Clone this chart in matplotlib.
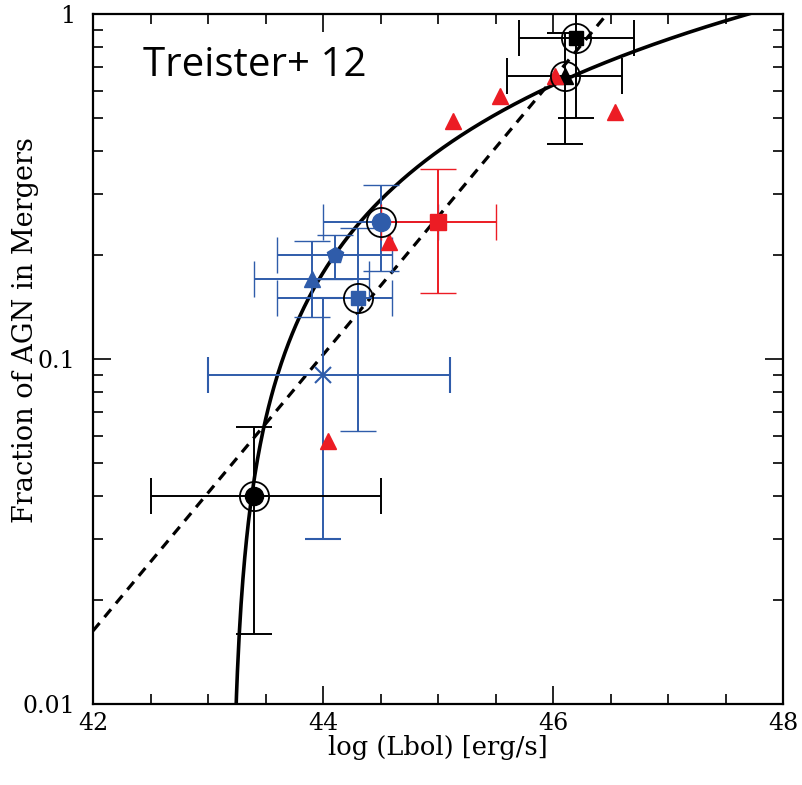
import numpy as np
import matplotlib
matplotlib.use("Agg")
import matplotlib.pyplot as plt
from matplotlib.ticker import FixedLocator, NullFormatter

# ---- data ----
# black points (with rings)
blk_circ_x, blk_circ_y = [43.4], [0.040]
blk_circ_xerr = [[0.9], [1.1]]
blk_circ_yerr = [[0.040 - 0.016], [0.0635 - 0.040]]

blk_sq_x, blk_sq_y = [46.2], [0.85]
blk_sq_xerr = [[0.5], [0.5]]
blk_sq_yerr = [[0.85 - 0.50], [1.3 - 0.85]]

blk_tri_x, blk_tri_y = [46.1], [0.66]
blk_tri_xerr = [[0.5], [0.5]]
blk_tri_yerr = [[0.66 - 0.42], [0.88 - 0.66]]

# blue points
blu_circ = dict(x=44.5, y=0.25, xlo=44.0, xhi=45.0, ylo=0.18, yhi=0.32)
blu_pent = dict(x=44.1, y=0.20, xlo=43.6, xhi=44.6, ylo=0.171, yhi=0.229)
blu_tri = dict(x=43.9, y=0.17, xlo=43.4, xhi=44.4, ylo=0.132, yhi=0.22)
blu_sq = dict(x=44.3, y=0.15, xlo=43.6, xhi=44.6, ylo=0.062, yhi=0.24)
blu_cross = dict(x=44.0, y=0.09, xlo=43.0, xhi=45.1, ylo=0.030, yhi=0.150)

# red point with errors
red_sq = dict(x=45.0, y=0.25, xlo=44.5, xhi=45.5, ylo=0.155, yhi=0.356)

# red triangles
red_tri_x = [44.04, 44.57, 45.13, 45.54, 46.02, 46.54]
red_tri_y = [0.058, 0.218, 0.49, 0.58, 0.66, 0.52]

# ringed points
ring_x = [43.4, 44.5, 44.3, 46.2, 46.1]
ring_y = [0.040, 0.25, 0.15, 0.85, 0.66]

# fits
lin_L0, lin_D = 43.2, 4.5          # f = (L - L0)/D
dash_slope, dash_L1 = 0.40, 46.47  # log f = slope*(L - L1)

xticklabels = ["42", "44", "46", "48"]
yticklabels = ["0.01", "0.1", "1"]

BLUE = "#2f5caa"
RED = "#ec1c24"

fig = plt.figure(figsize=(8.02, 7.85), dpi=100)
ax = fig.add_axes([93/802, 1 - 704/785, 690/802, 690/785])
ax.set_xlim(42, 48)
ax.set_ylim(0.01, 1)
ax.set_yscale("log")

# curves
L = np.linspace(lin_L0 + 0.04, 48, 600)
ax.plot(L, (L - lin_L0) / lin_D, color="black", lw=2.6, zorder=3)
Ld = np.linspace(42, 48, 10)
ax.plot(Ld, 10 ** (dash_slope * (Ld - dash_L1)), color="black", lw=2.3,
        ls=(0, (3.2, 2.4)), zorder=3)

eb_kw = dict(elinewidth=1.4, capsize=13, capthick=1.4, ls="none", zorder=4)

def eb(d, color, marker, ms, mew=1.0):
    ax.errorbar([d["x"]], [d["y"]],
                xerr=[[d["x"] - d["xlo"]], [d["xhi"] - d["x"]]],
                yerr=[[d["y"] - d["ylo"]], [d["yhi"] - d["y"]]],
                color=color, ecolor=color, marker=marker, ms=ms,
                mfc=color, mec=color, mew=mew, **eb_kw)

# blue
eb(blu_cross, BLUE, "x", 11, mew=1.5)
eb(blu_sq, BLUE, "s", 10)
eb(blu_tri, BLUE, "^", 11)
eb(blu_pent, BLUE, "p", 12)
eb(blu_circ, BLUE, "o", 13)
# red
eb(red_sq, RED, "s", 11)

# black
ax.errorbar(blk_circ_x, blk_circ_y, xerr=blk_circ_xerr, yerr=blk_circ_yerr,
            color="black", marker="o", ms=13, **eb_kw)
ax.errorbar(blk_sq_x, blk_sq_y, xerr=blk_sq_xerr, yerr=blk_sq_yerr,
            color="black", marker="s", ms=10, **eb_kw)

# red triangles
ax.plot(red_tri_x, red_tri_y, ls="none", marker="^", ms=12, color=RED,
        mec=RED, zorder=5)

ax.errorbar(blk_tri_x, blk_tri_y, xerr=blk_tri_xerr, yerr=blk_tri_yerr,
            color="black", marker="^", ms=11, **eb_kw)

# rings
ax.plot(ring_x, ring_y, ls="none", marker="o", ms=21, mfc="none",
        mec="black", mew=1.3, zorder=6)

# ticks
ax.xaxis.set_major_locator(FixedLocator([42, 44, 46, 48]))
ax.xaxis.set_minor_locator(FixedLocator(np.arange(42, 48.01, 0.5)))
ax.set_xticklabels(xticklabels)
ax.yaxis.set_major_locator(FixedLocator([0.01, 0.1, 1]))
ax.yaxis.set_minor_locator(FixedLocator(
    [m * 10.0 ** e for e in (-2, -1) for m in range(2, 10)]))
ax.yaxis.set_minor_formatter(NullFormatter())
ax.set_yticklabels(yticklabels)

ax.tick_params(which="both", direction="in", top=True, right=True,
               width=1.2, colors="black")
ax.tick_params(which="major", length=13, labelsize=17)
ax.tick_params(axis="y", which="major", pad=13)
ax.tick_params(axis="x", which="major", pad=6)
ax.tick_params(which="minor", length=7)
for lab in ax.get_xticklabels() + ax.get_yticklabels():
    lab.set_family("DejaVu Serif")
for s in ax.spines.values():
    s.set_linewidth(1.6)

ax.set_xlabel("log (Lbol) [erg/s]", fontsize=18.5, family="DejaVu Serif")
ax.xaxis.set_label_coords(0.5, -0.063)
ax.xaxis.label.set_va("center")
ax.set_ylabel("Fraction of AGN in Mergers", fontsize=19.5, family="DejaVu Serif")
ax.yaxis.set_label_coords(-0.098, 0.542)
ax.yaxis.label.set_va("center")

ax.text(0.073, 0.91, "Treister+ 12", transform=ax.transAxes, fontsize=29,
        family="Open Sans", ha="left", va="baseline")

fig.savefig("out.png", dpi=100)
